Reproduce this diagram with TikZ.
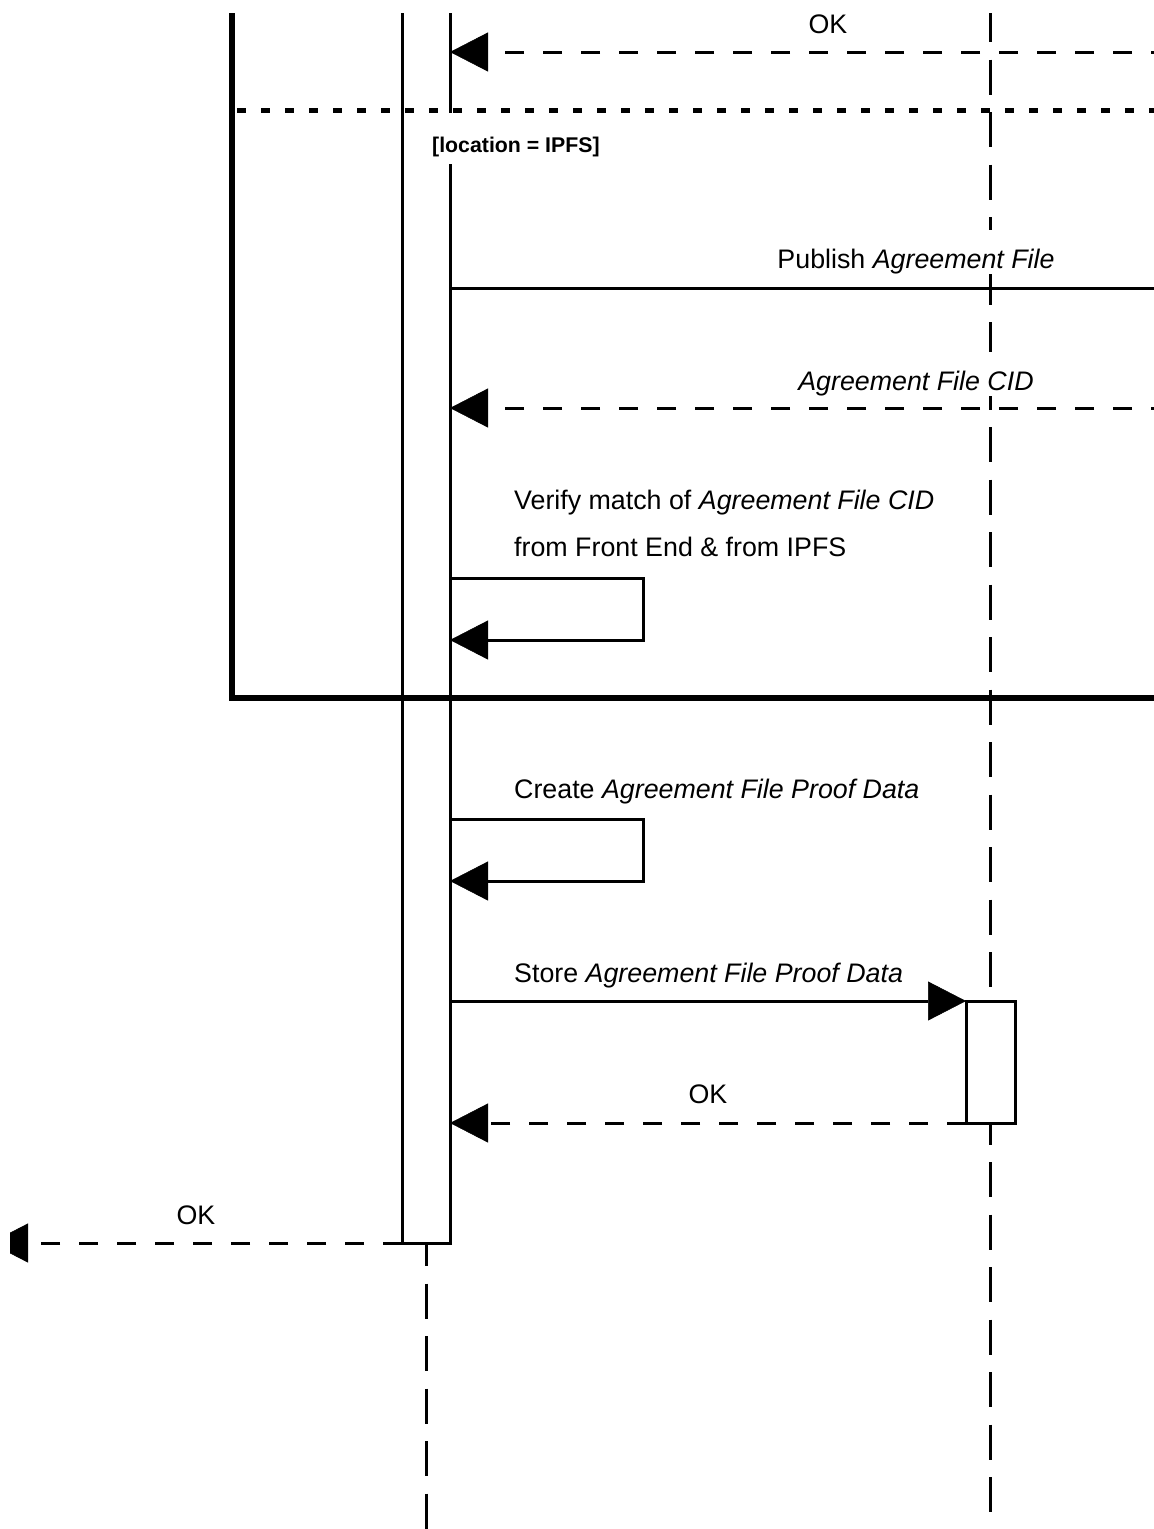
\documentclass[tikz,border=0pt]{standalone}
\usepackage{fontspec}
\setmainfont{Liberation Sans}
\usetikzlibrary{arrows.meta}
\begin{document}
\begin{tikzpicture}[x=1pt,y=-1pt,
  ln/.style={line width=3pt},
  tipped/.style={-{Triangle[length=38pt,width=39pt,line width=0.5pt]}},
  rdash/.style={dash pattern=on 19pt off 19pt},
  life/.style={ln, dash pattern=on 35pt off 17.5pt},
  frameline/.style={line width=5.5pt},
  dotline/.style={line width=5pt, dash pattern=on 9pt off 15pt, dash phase=19pt},
  lbl/.style={font=\fontsize{26.8pt}{32pt}\selectfont, inner sep=0pt},
  cover/.style={lbl, fill=white, text height=38pt, text depth=6pt, inner xsep=3pt},
  guard/.style={font=\fontsize{21.3pt}{26pt}\selectfont\bfseries, fill=white, inner xsep=3pt, inner ysep=4pt, text height=35pt, text depth=8pt},
  actbox/.style={draw, ln, fill=white, inner sep=0pt, outer sep=0pt},
]
\useasboundingbox (0,0) rectangle (1154,1529);
% named coordinates
\coordinate (lifeT) at (990,13);
\coordinate (lifeB) at (990,1540);
\coordinate (lifeLB) at (426,1540);
\coordinate (frTop) at (232,-20);
\coordinate (frCorner) at (232,698);
\coordinate (frRight) at (1170,698);
\coordinate (dotL) at (232,110);
\coordinate (dotR) at (1170,110);
\coordinate (r52) at (1170,52);
\coordinate (a52) at (450,52);
\coordinate (a288) at (450,288);
\coordinate (r288) at (1170,288);
\coordinate (r408) at (1170,408);
\coordinate (a408) at (450,408);
\coordinate (v1) at (450,578);
\coordinate (v2) at (643,578);
\coordinate (v3) at (643,640);
\coordinate (v4) at (450,640);
\coordinate (c1) at (450,819);
\coordinate (c2) at (643,819);
\coordinate (c3) at (643,881);
\coordinate (c4) at (450,881);
\coordinate (s1) at (450,1001);
\coordinate (k1) at (450,1123);
\coordinate (leftEnd) at (-10,1243);
\begin{scope}
\clip (10,13) rectangle (1154,1529);
% lifelines
\draw[life, dash phase=6pt] (lifeT) -- (lifeB);
\node[actbox, minimum width=48pt, minimum height=1283pt] (barA) at (426,601.5) {};
\draw[life, dash phase=12pt] (barA.south) -- (lifeLB);
\node[actbox, minimum width=49pt, minimum height=122pt] (boxR) at (990.5,1062) {};
% frame
\draw[frameline] (frTop) -- (frCorner) -- (frRight);
\draw[dotline] (dotL) -- (dotR);
% messages
\draw[ln, rdash, tipped] (r52) -- (a52);
\draw[ln] (a288) -- (r288);
\draw[ln, rdash, tipped] (r408) -- (a408);
\draw[ln, tipped] (v1) -- (v2) -- (v3) -- (v4);
\draw[ln, tipped] (c1) -- (c2) -- (c3) -- (c4);
\draw[ln, tipped] (s1) -- (boxR.north west);
\draw[ln, rdash, tipped] (boxR.south west) -- (k1);
\draw[ln, rdash, tipped] (barA.south west) -- (leftEnd);
\end{scope}
% labels
\node[lbl, anchor=base] (okTop) at (828,33) {OK};
\node[guard, anchor=base west] (loc) at (429,152) {[location = IPFS]};
\node[cover, anchor=base] (pub) at (916,268) {Publish \textit{Agreement File}};
\node[cover, anchor=base] (cid) at (916,390) {\textit{Agreement File CID}};
\node[lbl, anchor=base west] (ver1) at (514,509) {Verify match of \textit{Agreement File CID}};
\node[lbl, anchor=base west] (ver2) at (514,556) {from Front End \& from IPFS};
\node[lbl, anchor=base west] (cre) at (514,798) {Create \textit{Agreement File Proof Data}};
\node[lbl, anchor=base west] (sto) at (514,982) {Store \textit{Agreement File Proof Data}};
\node[lbl, anchor=base] (okMid) at (708,1103) {OK};
\node[lbl, anchor=base] (okLeft) at (196,1224) {OK};
\end{tikzpicture}
\end{document}
